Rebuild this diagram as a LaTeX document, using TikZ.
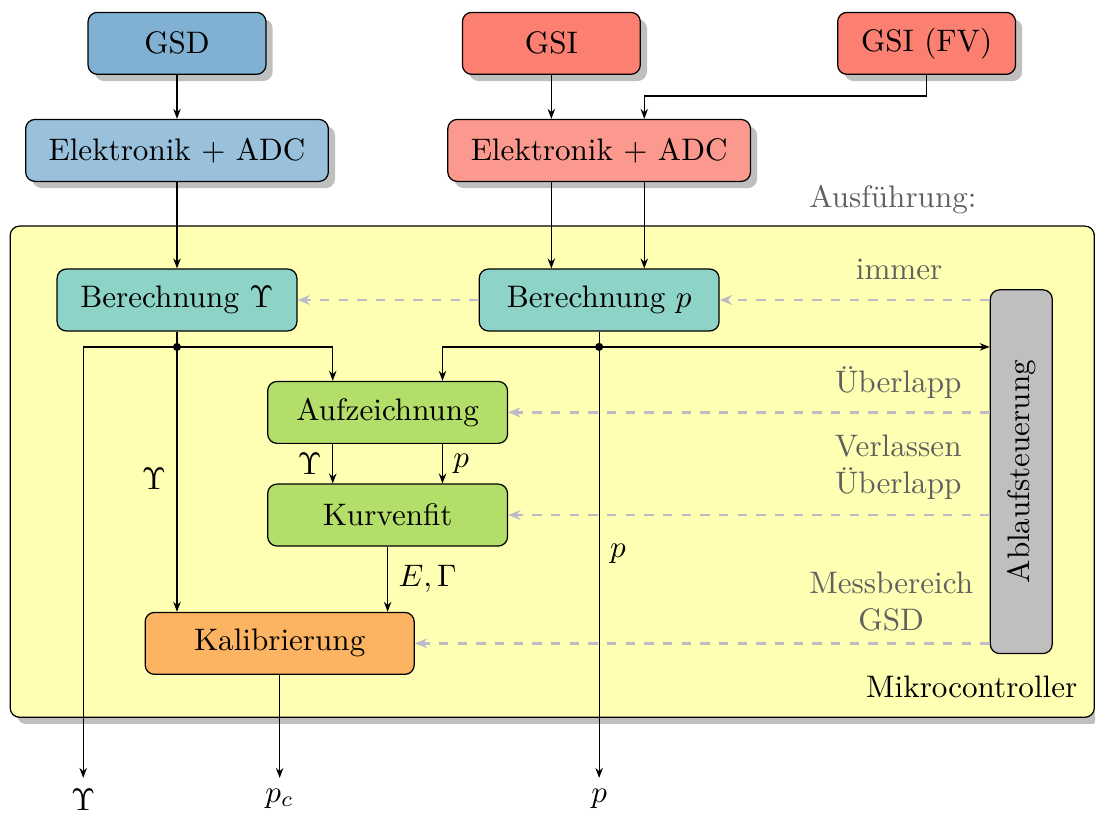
\documentclass[tikz,border=0pt]{standalone}
\usepackage{amsmath,amssymb}
\usepackage{xcolor}
\usetikzlibrary{arrows.meta,calc,positioning,shadows}

\definecolor{gsdblue}{HTML}{80B1D3}
\definecolor{gsired}{HTML}{FB8072}
\definecolor{calcteal}{HTML}{8DD3C7}
\definecolor{fitgreen}{HTML}{B3DE69}
\definecolor{calorange}{HTML}{FDB462}
\definecolor{mcyellow}{HTML}{FFFFB3}
\definecolor{ctrlgray}{HTML}{BDBCC6}
\definecolor{labelgray}{HTML}{606060}

\tikzset{
  block/.style={draw, rounded corners=3pt, minimum height=0.70cm, align=center},
  sensor/.style={block, drop shadow, minimum width=2.01cm},
  frontend/.style={block, drop shadow, minimum width=3.42cm},
  calcbox/.style={block, fill=calcteal, minimum width=2.71cm},
  fitbox/.style={block, fill=fitgreen, minimum width=2.71cm},
  flow/.style={-{Stealth[length=3.2pt,width=2.4pt]}},
  ctrl/.style={thick, dashed, ctrlgray, -{Stealth[length=4pt,width=3.2pt]}},
  mode/.style={text=labelgray, align=center},
}

\begin{document}
\begin{tikzpicture}
  \useasboundingbox (0,0) rectangle (12.373,-9.22);
  % Mikrocontroller
  \node[draw, rounded corners=3pt, fill=mcyellow, drop shadow,
        minimum width=12.25cm, minimum height=5.55cm] (mc) at (6.24,-5.33) {};
  \node (mclabel) at (10.98,-7.76) {Mikrocontroller};
  \node[mode] (ausf) at (10.09,-2.26) {Ausführung:};

  % Sensoren und Elektronik
  \node[sensor, fill=gsdblue] (gsd) at (2.00,-0.49) {GSD};
  \node[sensor, fill=gsired] (gsi) at (6.23,-0.49) {GSI};
  \node[sensor, fill=gsired] (gsifv) at (10.47,-0.49) {GSI (FV)};
  \node[frontend, fill=gsdblue!80] (elekd) at (2.00,-1.70) {Elektronik + ADC};
  \node[frontend, fill=gsired!80] (eleki) at (6.77,-1.70) {Elektronik + ADC};

  % Verarbeitung
  \node[calcbox] (berY) at (2.00,-3.39) {Berechnung $\Upsilon$};
  \node[calcbox] (berp) at (6.77,-3.39) {Berechnung $p$};
  \node[fitbox] (aufz) at (4.38,-4.66) {Aufzeichnung};
  \node[fitbox] (kurv) at (4.38,-5.82) {Kurvenfit};
  \node[block, fill=calorange, minimum width=3.04cm] (kalib) at (3.16,-7.27) {Kalibrierung};
  \node[block, fill=black!25, rotate=90, minimum width=4.11cm] (ablauf) at (11.54,-5.33) {Ablaufsteuerung};

  \node[mode] (immer) at (10.16,-3.05) {immer};
  \node[mode] (ueb) at (10.15,-4.32) {Überlapp};
  \node[mode] (verl) at (10.15,-5.28) {Verlassen\\Überlapp};
  \node[mode] (mess) at (10.07,-6.80) {Messbereich\\GSD};

  % Ausgaenge
  \node[anchor=north] (outY) at (0.94,-8.79) {$\Upsilon$};
  \node[anchor=north] (outpc) at (3.16,-8.79) {$p_c$};
  \node[anchor=north] (outp) at (6.77,-8.79) {$p$};

  \coordinate (jY) at (2.00,-3.92);
  \coordinate (jp) at (6.77,-3.92);
  \coordinate (fvbend) at (7.28,-1.085);

  % Datenfluss
  \draw[flow] (gsd) -- (elekd);
  \draw[flow] (gsi) -- (gsi |- eleki.north);
  \draw[flow] (gsifv.south) |- (fvbend) -- (fvbend |- eleki.north);
  \draw[flow] (elekd) -- (berY);
  \draw[flow] (gsi |- eleki.south) -- (gsi |- berp.north);
  \draw[flow] (fvbend |- eleki.south) -- (fvbend |- berp.north);

  \draw (berY) -- (jY);
  \draw (berp) -- (jp);
  \fill (jY) circle (1.3pt);
  \fill (jp) circle (1.3pt);
  \draw[flow] (jY) -| (outY.north);
  \draw[flow] (jY) -| ($(aufz.north)+(-0.62,0)$);
  \draw[flow] (jY) -- (jY |- kalib.north) node[midway,left] {$\Upsilon$};
  \draw[flow] (jp) -| ($(aufz.north)+(0.62,0)$);
  \draw[flow] (jp) -- (jp -| ablauf.north);
  \draw[flow] (jp) -- (outp.north) node[pos=0.48,right] {$p$};
  \draw[flow] ($(aufz.south)+(-0.62,0)$) -- ($(kurv.north)+(-0.62,0)$) node[midway,left] {$\Upsilon$};
  \draw[flow] ($(aufz.south)+(0.62,0)$) -- ($(kurv.north)+(0.62,0)$) node[midway,right] {$p$};
  \draw[flow] (kurv) -- (kurv |- kalib.north) node[midway,right] {$E,\Gamma$};
  \draw[flow] (kalib) -- (outpc);

  % Steuerung
  \draw[ctrl] (ablauf.north |- berp) -- (berp);
  \draw[ctrl] (berp) -- (berY);
  \draw[ctrl] (ablauf.north |- aufz) -- (aufz);
  \draw[ctrl] (ablauf.north |- kurv) -- (kurv);
  \draw[ctrl] (ablauf.north |- kalib) -- (kalib);
\end{tikzpicture}
\end{document}
